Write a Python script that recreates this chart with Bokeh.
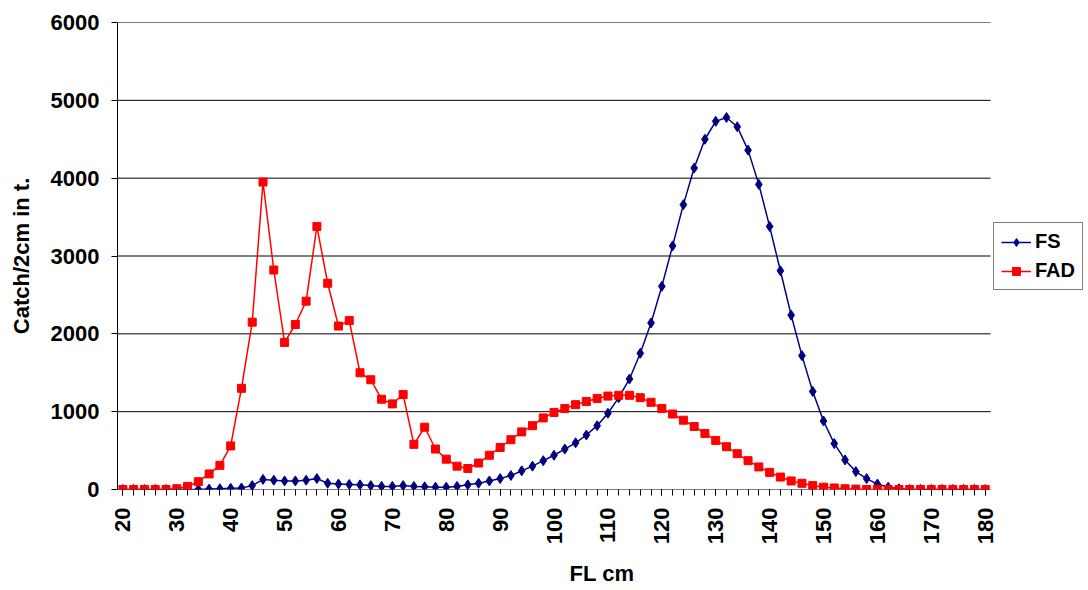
from bokeh.plotting import figure
from bokeh.models import Legend, LegendItem, SingleIntervalTicker, FixedTicker
from bokeh.embed import file_html
from bokeh.resources import INLINE
import numpy as np

fl = list(range(20, 182, 2))

fs = [0, 0, 0, 0, 0, 0, 0, 0, 5, 10, 15, 20, 50, 130, 120, 110, 110, 120, 140, 80,
      70, 65, 60, 50, 40, 40, 50, 40, 35, 30, 30, 40, 60, 80, 110, 140, 180, 240, 300, 370,
      440, 520, 600, 700, 820, 980, 1180, 1420, 1750, 2140, 2610, 3130, 3660, 4130, 4500, 4730,
      4780, 4660, 4360, 3920, 3380, 2810, 2240, 1720, 1260, 880, 590, 380, 230, 140, 70,
      30, 10, 0, 0, 0, 0, 0, 0, 0, 0]

fad = [0, 0, 0, 0, 0, 10, 40, 100, 200, 310, 560, 1300, 2150, 3950, 2820, 1890, 2120, 2420, 3380, 2650,
       2100, 2170, 1500, 1410, 1160, 1100, 1220, 580, 800, 520, 390, 300, 270, 340, 440, 540,
       640, 740, 820, 920, 990, 1040, 1090, 1130, 1170, 1200, 1210, 1210, 1180, 1120, 1040, 970,
       890, 810, 720, 630, 550, 460, 370, 290, 220, 160, 110, 80, 50, 30, 20, 10, 5, 0,
       0, 0, 0, 0, 0, 0, 0, 0, 0, 0, 0]

y_ticks = [0, 1000, 2000, 3000, 4000, 5000, 6000]
x_ticks = list(range(20, 190, 10))
x_lo, x_hi = 19, 181

font = "Liberation Sans"
fsize = "22px"

# frame extends to the right so the legend can sit beside the data area
p = figure(frame_width=969, frame_height=467, x_range=(x_lo, 198.8), y_range=(0, 6000),
           output_backend="svg", toolbar_location=None,
           min_border_left=117, min_border_top=22, min_border_right=0, min_border_bottom=0,
           x_axis_label="FL cm", y_axis_label="Catch/2cm in t.")
p.outline_line_color = None
p.xgrid.grid_line_color = None
p.ygrid.grid_line_color = None
p.segment(x0=[x_lo] * len(y_ticks), x1=[x_hi] * len(y_ticks), y0=y_ticks, y1=y_ticks,
          line_color="#000000", line_width=1)
p.xaxis.ticker = FixedTicker(ticks=x_ticks, minor_ticks=fl)
p.yaxis.ticker = SingleIntervalTicker(interval=1000, num_minor_ticks=0)
for ax in (p.xaxis[0], p.yaxis[0]):
    ax.axis_line_color = "#000000"
    ax.major_tick_line_color = "#000000"
    ax.minor_tick_line_color = "#000000"
    ax.major_label_text_font = font
    ax.major_label_text_font_style = "bold"
    ax.major_label_text_font_size = fsize
    ax.major_label_text_color = "#000000"
    ax.major_label_standoff = 12
    ax.axis_label_text_font = font
    ax.axis_label_text_font_style = "bold"
    ax.axis_label_text_font_size = fsize
    ax.axis_label_text_color = "#000000"
p.xaxis.axis_line_color = None
p.xaxis.major_label_orientation = np.pi / 2
p.xaxis.major_tick_in = 0
p.xaxis.major_tick_out = 6
p.xaxis.minor_tick_in = 0
p.xaxis.minor_tick_out = 6
p.yaxis.major_tick_in = 0
p.yaxis.major_tick_out = 6
p.xaxis.axis_label_standoff = 14
p.yaxis.axis_label_standoff = 14

l1 = p.line(fl, fs, color="#000080", line_width=1.5)
m1 = p.scatter(fl, fs, marker="diamond", size=10, color="#000080")
l2 = p.line(fl, fad, color="#ff0000", line_width=1.5)
m2 = p.scatter(fl, fad, marker="square", size=8, color="#ff0000")

legend = Legend(items=[LegendItem(label="FS", renderers=[l1, m1]),
                       LegendItem(label="FAD", renderers=[l2, m2])],
                location=(876, 199), border_line_color="#000000",
                label_text_font=font, label_text_font_style="bold", label_text_font_size="20px",
                label_text_color="#000000", label_standoff=4,
                glyph_width=30, spacing=6, padding=7, margin=0)
p.add_layout(legend, "center")

open("out.html", "w").write(file_html(p, INLINE))
